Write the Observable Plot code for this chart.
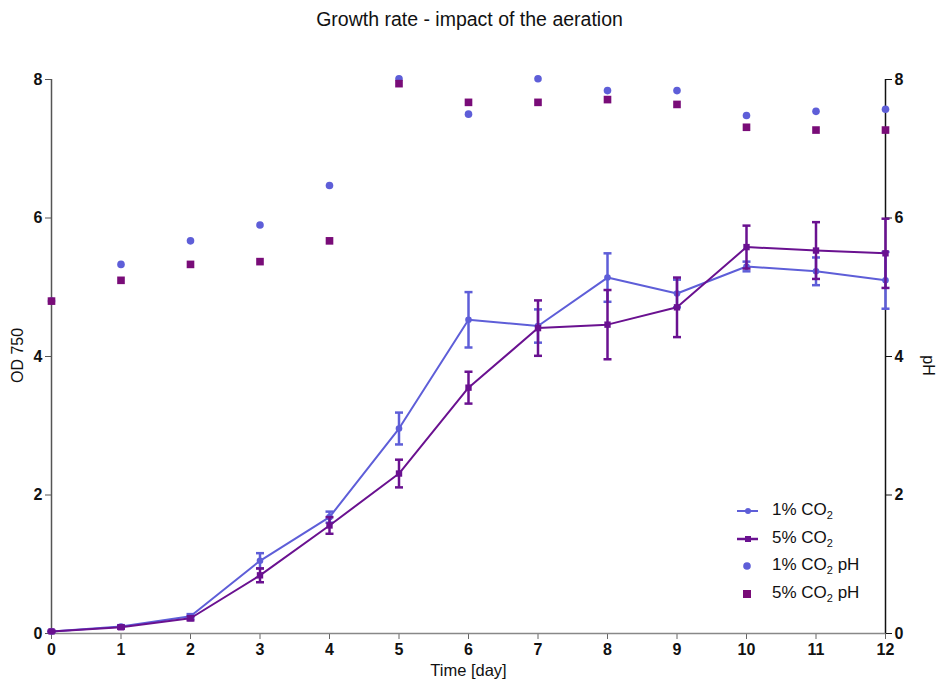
<!DOCTYPE html>
<html>
<head>
<meta charset="utf-8">
<script src="https://cdn.jsdelivr.net/npm/d3@7"></script>
<script src="https://cdn.jsdelivr.net/npm/@observablehq/plot@0.6"></script>
<style>
  html, body { margin: 0; padding: 0; background: #fff; }
  body { width: 939px; height: 686px; position: relative; overflow: hidden; font-family: "Liberation Sans", Arial, sans-serif; }
  #title { height: 36px; line-height: 38px; text-align: center; font-size: 19.5px; color: #111; }
  #legend { position: absolute; left: 730px; top: 497px; font-size: 17px; color: #111; }
  #legend .row { position: absolute; left: 0; height: 28px; white-space: nowrap; }
  #legend svg { position: absolute; left: 0; top: 0; }
  #legend span { position: absolute; left: 42px; top: 3px; }
  #legend sub { font-size: 11px; vertical-align: -4px; line-height: 0; }
  #chart g[aria-label="x-axis tick label"],
  #chart g[aria-label="y-axis tick label"] { font-size: 16px !important; font-weight: bold; }
  #chart g[aria-label="x-axis tick label"] text,
  #chart g[aria-label="y-axis tick label"] text { font-size: 16px !important; }
</style>
</head>
<body>
<div id="title">Growth rate - impact of the aeration</div>
<div id="chart"></div>
<div id="legend"></div>
<script>
// ---- data ----
const days = [0, 1, 2, 3, 4, 5, 6, 7, 8, 9, 10, 11, 12];
const od1  = [0.03, 0.10, 0.25, 1.05, 1.68, 2.96, 4.53, 4.44, 5.14, 4.91, 5.30, 5.23, 5.10];
const err1 = [0.01, 0.02, 0.03, 0.11, 0.08, 0.23, 0.40, 0.24, 0.35, 0.20, 0.07, 0.20, 0.41];
const od5  = [0.03, 0.09, 0.22, 0.84, 1.56, 2.31, 3.55, 4.41, 4.46, 4.71, 5.58, 5.53, 5.49];
const err5 = [0.01, 0.02, 0.03, 0.10, 0.12, 0.20, 0.23, 0.40, 0.50, 0.43, 0.31, 0.41, 0.50];
const ph1  = [4.80, 5.33, 5.67, 5.90, 6.47, 8.01, 7.50, 8.01, 7.84, 7.84, 7.48, 7.54, 7.57];
const ph5  = [4.80, 5.10, 5.33, 5.37, 5.67, 7.94, 7.67, 7.67, 7.71, 7.64, 7.31, 7.27, 7.27];
const xTicks = [0, 1, 2, 3, 4, 5, 6, 7, 8, 9, 10, 11, 12];
const yTicks = [0, 2, 4, 6, 8];
const seriesNames = ["1% CO", "5% CO", "1% CO", "5% CO"];
const seriesSuffix = ["", "", " pH", " pH"];

const C1 = "#5e5ed8";
const C5 = "#6a1190";
const CP5 = "#790c78";

const s1 = days.map((d, i) => ({day: d, od: od1[i], lo: od1[i] - err1[i], hi: od1[i] + err1[i], ph: ph1[i]}));
const s5 = days.map((d, i) => ({day: d, od: od5[i], lo: od5[i] - err5[i], hi: od5[i] + err5[i], ph: ph5[i]}));

const hbar = { draw(ctx, size) { const w = Math.sqrt(size / Math.PI); ctx.moveTo(-w, 0); ctx.lineTo(w, 0); } };

function series(data, color, symbol, r) {
  return [
    Plot.line(data, {x: "day", y: "od", stroke: color, strokeWidth: 2}),
    Plot.ruleX(data, {x: "day", y1: "lo", y2: "hi", stroke: color, strokeWidth: 2.5}),
    Plot.dot(data, {x: "day", y: "lo", symbol: hbar, r: 4, stroke: color, strokeWidth: 2.5, fill: "none"}),
    Plot.dot(data, {x: "day", y: "hi", symbol: hbar, r: 4, stroke: color, strokeWidth: 2.5, fill: "none"}),
    Plot.dot(data, {x: "day", y: "od", symbol: symbol, r: r, fill: color, stroke: "none"})
  ];
}

const chart = Plot.plot({
  width: 939,
  height: 650,
  marginLeft: 51,
  marginRight: 54,
  marginTop: 43,
  marginBottom: 53,
  x: {domain: [0, 12]},
  y: {domain: [0, 8]},
  style: {fontFamily: "'Liberation Sans', Arial, sans-serif", fontSize: "15px", color: "#111", background: "#fff"},
  marks: [
    Plot.axisX({ticks: xTicks, tickSize: 6, tickPadding: 4, fontWeight: "bold", label: null, stroke: "#666"}),
    Plot.axisY({anchor: "left", ticks: yTicks, tickSize: 6, tickPadding: 3, fontWeight: "bold", label: null, stroke: "#555"}),
    Plot.axisY({anchor: "right", ticks: yTicks, tickSize: 6, tickPadding: 3, fontWeight: "bold", label: null, stroke: "#111"}),
    Plot.ruleX([0], {stroke: "#555", strokeWidth: 1.5}),
    Plot.ruleX([12], {stroke: "#111", strokeWidth: 1.5}),
    Plot.ruleY([0], {stroke: "#888", strokeWidth: 1.5}),
    Plot.text(["Time [day]"], {frameAnchor: "bottom", dy: 42, fontSize: 16.5}),
    Plot.text(["OD 750"], {frameAnchor: "left", textAnchor: "middle", dx: -34, dy: -1, rotate: -90, fontSize: 16}),
    Plot.text(["pH"], {frameAnchor: "right", textAnchor: "middle", dx: 43, dy: 9, rotate: 90, fontSize: 16}),
    Plot.dot(s1, {x: "day", y: "ph", r: 3.8, fill: C1, stroke: "none"}),
    Plot.dot(s5, {x: "day", y: "ph", symbol: "square", r: 4.3, fill: CP5, stroke: "none"}),
    ...series(s1, C1, "circle", 3.3),
    ...series(s5, C5, "square", 3.6)
  ]
});
document.getElementById("chart").appendChild(chart);

// ---- legend ----
const legend = document.getElementById("legend");
const icons = [
  `<line x1="7" y1="14" x2="28" y2="14" stroke="${C1}" stroke-width="2"/><circle cx="18" cy="14" r="3" fill="${C1}"/>`,
  `<line x1="7" y1="14" x2="28" y2="14" stroke="${C5}" stroke-width="2.5"/><rect x="15" y="11" width="6" height="6" fill="${C5}"/>`,
  `<circle cx="17" cy="14" r="3.8" fill="${C1}"/>`,
  `<rect x="13" y="10" width="8" height="8" fill="${CP5}"/>`
];
const rowTops = [0, 28, 55, 83];
seriesNames.forEach((n, i) => {
  const row = document.createElement("div");
  row.className = "row";
  row.style.top = rowTops[i] + "px";
  row.innerHTML = `<svg width="36" height="28">${icons[i]}</svg><span>${n}<sub>2</sub>${seriesSuffix[i]}</span>`;
  legend.appendChild(row);
});
</script>
</body>
</html>
